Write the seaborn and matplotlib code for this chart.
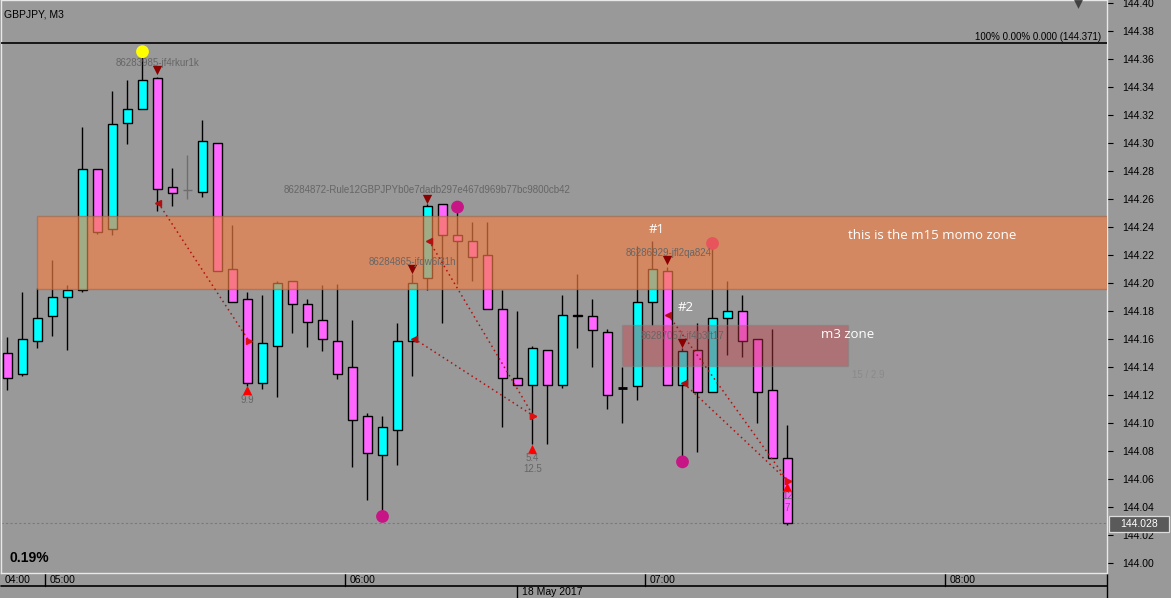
import matplotlib
matplotlib.use("Agg")
import matplotlib.pyplot as plt
from matplotlib.patches import Rectangle
import seaborn as sns
import pandas as pd
import numpy as np

# GBPJPY M3 candles, 04:51 .. 07:27
opens = [144.150, 144.135, 144.158, 144.176, 144.190, 144.195, 144.281, 144.238, 144.314, 144.324,
         144.346, 144.268, 144.266, 144.265, 144.300, 144.210, 144.188, 144.128, 144.155, 144.201,
         144.185, 144.173, 144.158, 144.140, 144.105, 144.077, 144.095, 144.158, 144.203, 144.256,
         144.234, 144.230, 144.220, 144.181, 144.132, 144.127, 144.152, 144.127, 144.177, 144.176,
         144.165, 144.125, 144.126, 144.186, 144.208, 144.127, 144.152, 144.122, 144.175, 144.180,
         144.160, 144.123, 144.075]
highs = [144.161, 144.193, 144.196, 144.216, 144.198, 144.311, 144.281, 144.337, 144.345, 144.361,
         144.347, 144.282, 144.291, 144.316, 144.300, 144.241, 144.193, 144.191, 144.201, 144.201,
         144.188, 144.198, 144.199, 144.173, 144.107, 144.105, 144.171, 144.206, 144.256, 144.256,
         144.252, 144.243, 144.243, 144.195, 144.180, 144.155, 144.152, 144.191, 144.206, 144.188,
         144.167, 144.140, 144.226, 144.230, 144.211, 144.153, 144.171, 144.225, 144.201, 144.191,
         144.160, 144.167, 144.098]
lows = [144.123, 144.133, 144.153, 144.162, 144.152, 144.193, 144.235, 144.234, 144.299, 144.324,
        144.251, 144.255, 144.260, 144.261, 144.208, 144.186, 144.126, 144.124, 144.118, 144.164,
        144.154, 144.151, 144.131, 144.068, 144.045, 144.035, 144.070, 144.133, 144.195, 144.171,
        144.199, 144.201, 144.181, 144.097, 144.127, 144.085, 144.085, 144.125, 144.153, 144.140,
        144.110, 144.100, 144.116, 144.170, 144.127, 144.076, 144.079, 144.122, 144.148, 144.147,
        144.100, 144.075, 144.027]
closes = [144.132, 144.160, 144.175, 144.190, 144.195, 144.281, 144.236, 144.313, 144.324, 144.345,
          144.267, 144.264, 144.266, 144.301, 144.208, 144.186, 144.128, 144.157, 144.200, 144.185,
          144.172, 144.160, 144.135, 144.102, 144.078, 144.097, 144.158, 144.200, 144.255, 144.234,
          144.230, 144.218, 144.181, 144.132, 144.127, 144.153, 144.127, 144.177, 144.176, 144.166,
          144.120, 144.125, 144.186, 144.210, 144.127, 144.151, 144.122, 144.175, 144.180, 144.158,
          144.122, 144.075, 144.028]

price_ticks = [144.00, 144.02, 144.04, 144.06, 144.08, 144.10, 144.12, 144.14, 144.16, 144.18,
               144.20, 144.22, 144.24, 144.26, 144.28, 144.30, 144.32, 144.34, 144.36, 144.38, 144.40]
time_labels = ["04:00", "05:00", "06:00", "07:00", "08:00"]
time_label_idx = [-0.2, 2.8, 22.8, 42.8, 62.8]
time_sep_idx = [2.5, 22.5, 42.5, 62.5]

# zones (price ranges, candle index ranges)
m15_zone = (144.1953, 144.2476)
m15_zone_start = 2.0
m3_zone = (144.1403, 144.1696)
m3_zone_span = (40.97, 56.03)

# trade labels / markers
trade_ids = ["86283985-jf4rkur1k", "86284872-Rule12GBPJPYb0e7dadb297e467d969b77bc9800cb42",
             "86284865-jfdw6i31h", "86286929-jfl2qa824", "86287057-jf4b3ft17"]
trade_id_x = [10.0, 28.0, 27.0, 44.05, 45.0]
trade_id_y = [144.357, 144.266, 144.215, 144.221, 144.162]

sell_x = [10, 27, 28, 44, 45]
sell_y = [144.352, 144.210, 144.260, 144.216, 144.157]
close_x = [16, 35, 52]
close_y = [144.123, 144.081, 144.054]
result_text = ["9.9", "5.4\n12.5", "12\n7"]
result_y = [144.1201, 144.0784, 144.0509]

dot_x = [9, 30, 25, 45, 47]
dot_y = [144.365, 144.254, 144.033, 144.072, 144.228]
dot_kind = ["yellow", "purple", "purple", "purple", "red"]

trade_lines = [((10.05, 144.257), (16.12, 144.158)),
               ((27.1, 144.160), (35.05, 144.105)),
               ((28.1, 144.230), (35.05, 144.105)),
               ((44.05, 144.177), (52.05, 144.058)),
               ((45.1, 144.128), (52.05, 144.058))]

hline_price = 144.371
last_price = 144.028

BG = "#999999"
UP = "#00ffff"
DOWN = "#ff66ff"

sns.set_style("dark")
plt.rcParams["font.family"] = ["Liberation Sans", "DejaVu Sans"]

fig = plt.figure(figsize=(11.71, 5.98), dpi=100, facecolor=BG)
ax = fig.add_axes([1 / 1171, 25 / 598, 1106 / 1171, 573 / 598])
ax.set_facecolor(BG)
ax.grid(False)

idx = np.arange(len(opens))
df = pd.DataFrame({"i": idx, "o": opens, "h": highs, "l": lows, "c": closes})

# wicks
wick_colors = ["#6e6e6e" if (r.o == r.c and r.i == 12) else "black" for r in df.itertuples()]
ax.vlines(df["i"], df["l"], df["h"], colors=wick_colors, linewidth=1.0, zorder=2)

# bodies
for r in df.itertuples():
    if r.o == r.c:
        col = "#6e6e6e" if r.i == 12 else "black"
        lw = 1.0 if r.i == 12 else 2.0
        ax.hlines(r.o, r.i - 0.33, r.i + 0.33, colors=col, linewidth=lw, zorder=3)
        continue
    col = UP if r.c > r.o else DOWN
    ax.bar(r.i, abs(r.c - r.o), bottom=min(r.o, r.c), width=0.62, color=col,
           edgecolor="black", linewidth=1.0, zorder=3)

xmin, xmax = -0.4333, 73.3
ymin, ymax = 143.9926, 144.4019
ax.set_xlim(xmin, xmax)
ax.set_ylim(ymin, ymax)

# zones
ax.add_patch(Rectangle((m15_zone_start, m15_zone[0]), xmax - m15_zone_start, m15_zone[1] - m15_zone[0],
                       facecolor="#f58044", alpha=0.65, edgecolor="#a8684a", linewidth=1.0, zorder=4))
ax.add_patch(Rectangle((m3_zone_span[0], m3_zone[0]), m3_zone_span[1] - m3_zone_span[0],
                       m3_zone[1] - m3_zone[0], facecolor="#c83c46", alpha=0.42,
                       edgecolor="#808080", linewidth=1.0, zorder=4))

# horizontal lines
ax.axhline(hline_price, color="black", linewidth=1.2, zorder=5)
ax.text(72.9, hline_price + 0.001, "100% 0.00% 0.000 (144.371)", ha="right", va="bottom",
        fontsize=7, color="black", zorder=6)
ax.axhline(last_price, color="#7a7a7a", linewidth=0.8, linestyle=(0, (2, 2)), zorder=1)

# dotted trade lines
for (x0, y0), (x1, y1) in trade_lines:
    ax.plot([x0, x1], [y0, y1], color="#b01010", linewidth=1.1, linestyle=(0, (1, 2.2)), zorder=6)
    ax.plot([x0], [y0], marker="<", color="#b01010", markersize=4, zorder=6)
    ax.plot([x1], [y1], marker=">", color="#e01010", markersize=4, zorder=6)

# markers
sns.scatterplot(x=sell_x, y=sell_y, marker="v", color="#8b0000", s=45, linewidth=0, ax=ax, zorder=7)
sns.scatterplot(x=close_x, y=close_y, marker="^", color="#ff0000", s=45, linewidth=0, ax=ax, zorder=7)
dot_pal = {"yellow": "#ffff00", "purple": "#c71585", "red": "#e8545c"}
sns.scatterplot(x=dot_x, y=dot_y, hue=dot_kind, palette=dot_pal, s=85, linewidth=0,
                legend=False, ax=ax, zorder=7)
ax.scatter([71.4], [144.399], marker="v", color="#404040", s=40, linewidth=0, zorder=7)

# texts
for t, x, y in zip(trade_ids, trade_id_x, trade_id_y):
    ax.text(x, y, t, ha="center", va="center", fontsize=7, color="#666666", zorder=8)
for t, x, y in zip(result_text, close_x, result_y):
    ax.text(x, y, t, ha="center", va="top", fontsize=7, color="#666666", linespacing=1.2, zorder=8)
ax.text(57.37, 144.134, "15 / 2.9", ha="center", va="center", fontsize=7, color="#8a8a8a", zorder=8)

ax.text(43.3, 144.238, "#1", ha="center", va="center", fontsize=9.5, color="white",
        family="Open Sans", zorder=8)
ax.text(45.2, 144.182, "#2", ha="center", va="center", fontsize=9.5, color="white",
        family="Open Sans", zorder=8)
ax.text(56.03, 144.234, "this is the m15 momo zone", ha="left", va="center", fontsize=9.5,
        color="white", family="Open Sans", zorder=8)
ax.text(54.23, 144.163, "m3 zone", ha="left", va="center", fontsize=9.5, color="white",
        family="Open Sans", zorder=8)

ax.text(0.003, 0.974, "GBPJPY, M3", transform=ax.transAxes, ha="left", va="center",
        fontsize=7.5, color="black")
ax.text(0.008, 0.027, "0.19%", transform=ax.transAxes, ha="left", va="center",
        fontsize=10, fontweight="bold", color="black")

# axes frame
for s in ax.spines.values():
    s.set_color("#e8e8e8")
    s.set_linewidth(1.0)

ax.yaxis.tick_right()
ax.set_yticks(price_ticks)
ax.set_yticklabels([f"{p:.2f}" for p in price_ticks])
ax.tick_params(axis="y", right=True, left=False, length=4, width=0.8, color="black",
               pad=7, labelsize=7.5, labelcolor="black")
ax.set_xticks([])
ax.set_xlabel("")
ax.set_ylabel("")

# last price box (pixel-placed on the price scale)
W, H = 1171, 598
box_y = 562.7 - (last_price - 144.0) * 1400
fig.patches.append(Rectangle((1109 / W, (H - box_y - 8) / H), 60 / W, 16 / H, transform=fig.transFigure,
                             facecolor="#5a5a5a", edgecolor="#dddddd", linewidth=0.9, zorder=5))
fig.text(1139 / W, (H - box_y) / H, f"{last_price:.3f}", ha="center", va="center",
         fontsize=7.5, color="white", zorder=6)

# time axis
for x in time_sep_idx:
    ax.plot([x, x], [0, -0.022], transform=ax.get_xaxis_transform(), color="black",
            linewidth=1.0, clip_on=False)
for t, x in zip(time_labels, time_label_idx):
    ax.text(x, -0.012, t, transform=ax.get_xaxis_transform(), ha="left", va="center",
            fontsize=7.5, color="black", clip_on=False)
ax.plot([0, 1], [-0.0225, -0.0225], transform=ax.transAxes, color="black", linewidth=1.2, clip_on=False)
ax.plot([1, 1], [0, -0.05], transform=ax.transAxes, color="black", linewidth=1.0, clip_on=False)
ax.plot([34.0, 34.0], [-0.0225, -0.05], transform=ax.get_xaxis_transform(), color="black",
        linewidth=1.0, clip_on=False)
ax.text(34.3, -0.033, "18 May 2017", transform=ax.get_xaxis_transform(), ha="left", va="center",
        fontsize=7.5, color="black", clip_on=False)

fig.savefig("out.png", dpi=100, facecolor=BG)
